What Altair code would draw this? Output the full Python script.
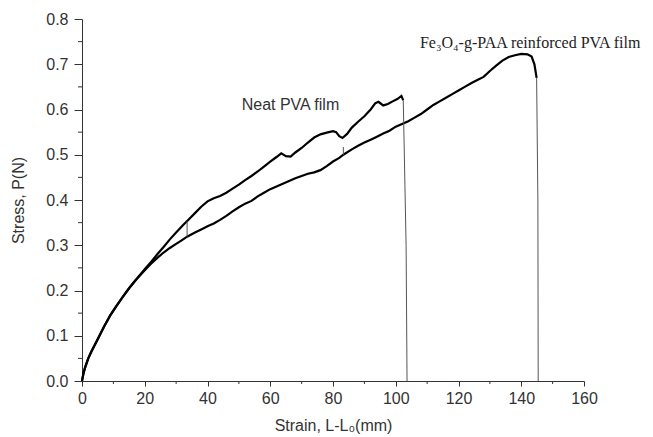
import altair as alt
import pandas as pd

# Neat PVA film curve (strain mm, stress N)
neat_x = [0, 0.5, 1, 2, 3, 5, 7, 9, 11, 13, 15, 17, 20, 22, 24, 26, 28, 30, 32, 34, 36, 38, 40,
          42, 44, 46, 48, 50, 52, 54, 56, 58, 60, 62, 63.5, 65, 66.5, 68, 70, 72, 74, 76, 78, 80,
          81, 82, 83, 84.5, 86, 88, 90, 92, 93.5, 94.5, 96, 97.5, 99, 100.5, 101.8, 102.4]
neat_y = [0, 0.018, 0.03, 0.05, 0.065, 0.092, 0.12, 0.145, 0.166, 0.186, 0.205, 0.222, 0.247,
          0.263, 0.28, 0.296, 0.313, 0.328, 0.343, 0.357, 0.371, 0.385, 0.397,
          0.404, 0.409, 0.416, 0.425, 0.434, 0.444, 0.453, 0.463, 0.474, 0.485, 0.495, 0.503,
          0.497, 0.496, 0.505, 0.515, 0.527, 0.538, 0.545, 0.549, 0.552,
          0.55, 0.541, 0.537, 0.546, 0.56, 0.573, 0.585, 0.6, 0.614, 0.617, 0.609, 0.612, 0.618,
          0.623, 0.63, 0.62]
neat_drop_x = [102.4, 103.3, 103.6]
neat_drop_y = [0.62, 0.3, 0.0]

# Fe3O4-g-PAA reinforced PVA film curve
fe_x = [0, 0.5, 1, 2, 3, 5, 7, 9, 11, 13, 15, 17, 20, 22, 24, 26, 28, 30, 32, 33.5,
        36, 38, 40, 42, 44, 46, 48, 50, 52, 54, 56, 58, 60, 62, 64, 66, 68, 70, 72, 74, 76, 78,
        80, 82, 83.3, 86, 88, 90, 92, 94, 96, 98, 100, 102, 104, 106, 108, 110, 112,
        114, 116, 118, 120, 122, 124, 126, 128, 130, 132, 134, 136, 138, 140, 142, 143.3, 144.2,
        144.9]
fe_y = [0, 0.018, 0.03, 0.05, 0.065, 0.092, 0.12, 0.145, 0.166, 0.186, 0.205, 0.222, 0.245,
        0.259, 0.272, 0.284, 0.294, 0.303, 0.312, 0.319,
        0.328, 0.335, 0.342, 0.348, 0.356, 0.365, 0.375, 0.384, 0.392, 0.398, 0.408, 0.416,
        0.424, 0.43, 0.436, 0.442, 0.448, 0.453, 0.458, 0.461, 0.466, 0.475,
        0.485, 0.493, 0.5, 0.512, 0.52, 0.527, 0.533, 0.54, 0.547, 0.553, 0.562,
        0.568, 0.574, 0.582, 0.59, 0.6, 0.61,
        0.618, 0.626, 0.634, 0.642, 0.65, 0.658, 0.665, 0.672, 0.685, 0.697, 0.708, 0.716,
        0.72, 0.723, 0.722, 0.717, 0.70, 0.67]
fe_drop_x = [144.9, 145.3, 145.4]
fe_drop_y = [0.67, 0.4, 0.0]

# thin glitch spikes on the reinforced-film curve
spike1_x = [33.5, 33.5]
spike1_y = [0.319, 0.353]
spike2_x = [83.3, 83.3]
spike2_y = [0.5, 0.517]

x_major = [0, 20, 40, 60, 80, 100, 120, 140, 160]
x_minor = [10, 30, 50, 70, 90, 110, 130, 150]
y_major = [0.0, 0.1, 0.2, 0.3, 0.4, 0.5, 0.6, 0.7, 0.8]
y_minor = [0.05, 0.15, 0.25, 0.35, 0.45, 0.55, 0.65, 0.75]

def frame(xs, ys, name):
    return pd.DataFrame({"x": xs, "y": ys, "s": name, "i": list(range(len(xs)))})

curves = pd.concat([frame(neat_x, neat_y, "neat"), frame(fe_x, fe_y, "fe")])
thin = pd.concat([frame(neat_drop_x, neat_drop_y, "neatdrop"), frame(fe_drop_x, fe_drop_y, "fedrop"),
                  frame(spike1_x, spike1_y, "sp1"), frame(spike2_x, spike2_y, "sp2")])

xs = alt.Scale(domain=[0, 160], nice=False, zero=False)
ys = alt.Scale(domain=[0, 0.8], nice=False)

FONT = "Liberation Sans"

xaxis = alt.Axis(values=x_major, title="Strain, L-L\u2080(mm)", grid=False,
                 labelFont=FONT, labelFontSize=16, labelColor="#333", labelPadding=4,
                 titleFont=FONT, titleFontSize=16, titleColor="#333", titleFontWeight="normal",
                 titleY=44, titleBaseline="middle",
                 tickSize=5, tickColor="#333", domainColor="#333", labelFlush=False)
yaxis = alt.Axis(values=y_major, format=".1f", title="Stress, P(N)", grid=False,
                 labelFont=FONT, labelFontSize=16, labelColor="#333", labelPadding=6,
                 titleFont=FONT, titleFontSize=16, titleColor="#333", titleFontWeight="normal",
                 titleX=-64, titleAngle=-90, titleAlign="center", titleBaseline="middle",
                 tickSize=8, tickColor="#333", domainColor="#333", labelFlush=False)

lines = alt.Chart(curves).mark_line(color="black", strokeWidth=2.2, interpolate="linear").encode(
    x=alt.X("x:Q", scale=xs, axis=xaxis),
    y=alt.Y("y:Q", scale=ys, axis=yaxis),
    detail="s:N",
    order="i:Q",
)
thinlines = alt.Chart(thin).mark_line(color="#555", strokeWidth=1).encode(
    x=alt.X("x:Q", scale=xs), y=alt.Y("y:Q", scale=ys), detail="s:N", order="i:Q")

xminor = alt.Chart(pd.DataFrame({"v": x_minor})).mark_rule(color="#333", strokeWidth=1).encode(
    x=alt.X("v:Q", scale=xs), y=alt.value(362), y2=alt.value(365))
yminor = alt.Chart(pd.DataFrame({"v": y_minor})).mark_rule(color="#333", strokeWidth=1).encode(
    y=alt.Y("v:Q", scale=ys), x=alt.value(0), x2=alt.value(-4))

labels = pd.DataFrame({"x": [50.9, 107.7], "y": [0.611, 0.747],
                       "t": ["Neat PVA film", "Fe\u2083O\u2084-g-PAA reinforced PVA film"]})
neat_label = alt.Chart(labels.iloc[[0]]).mark_text(
    align="left", baseline="middle", font=FONT, fontSize=16, color="#333").encode(
    x=alt.X("x:Q", scale=xs), y=alt.Y("y:Q", scale=ys), text="t:N")
fe_label = alt.Chart(labels.iloc[[1]]).mark_text(
    align="left", baseline="middle", font="Liberation Serif", fontSize=16, color="#222").encode(
    x=alt.X("x:Q", scale=xs), y=alt.Y("y:Q", scale=ys), text="t:N")

chart = alt.layer(lines, thinlines, xminor, yminor, neat_label, fe_label).properties(
    width=502, height=362,
    autosize=alt.AutoSizeParams(type="none"),
    padding={"left": 82, "top": 19, "right": 69, "bottom": 56},
    background="white",
).configure_view(stroke=None)

chart.save("out.html", embed_options={"renderer": "svg", "actions": False})
